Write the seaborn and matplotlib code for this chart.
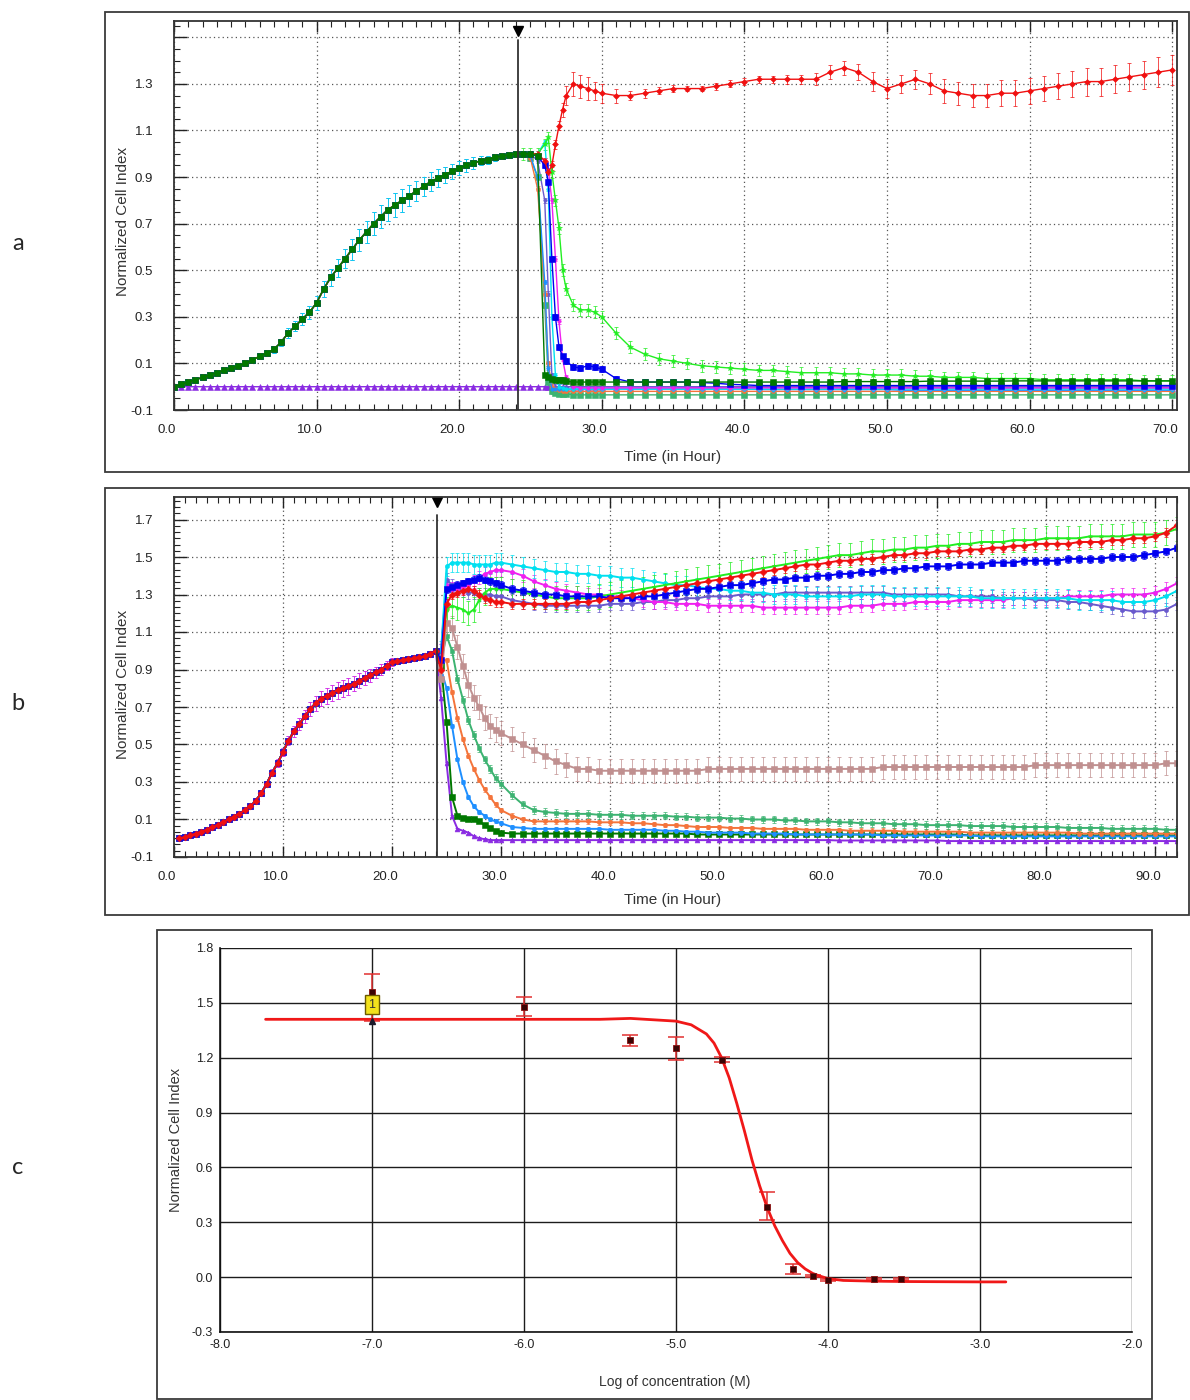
import numpy as np
import pandas as pd
import matplotlib
matplotlib.use("Agg")
import matplotlib.pyplot as plt
import seaborn as sns
from matplotlib.patches import Rectangle
from matplotlib.ticker import MultipleLocator, FormatStrFormatter
from matplotlib.transforms import ScaledTranslation, blended_transform_factory

sns.set_style("white")
plt.rcParams["font.family"] = ["Liberation Sans", "DejaVu Sans"]

# ---------------- panel a : growth phase (shared by most wells) ----------------
ta_grow = [0.0, 0.5, 1.0, 1.5, 2.0, 2.5, 3.0, 3.5, 4.0, 4.5,
           5.0, 5.5, 6.0, 6.5, 7.0, 7.5, 8.0, 8.5, 9.0, 9.5,
           10.0, 10.5, 11.0, 11.5, 12.0, 12.5, 13.0, 13.5, 14.0, 14.5,
           15.0, 15.5, 16.0, 16.5, 17.0, 17.5, 18.0, 18.5, 19.0, 19.5,
           20.0, 20.5, 21.0, 21.5, 22.0, 22.5, 23.0, 23.5, 24.0]
a_grow = [0.00, 0.01, 0.02, 0.03, 0.04, 0.05, 0.06, 0.07, 0.08, 0.09,
          0.10, 0.115, 0.13, 0.145, 0.16, 0.19, 0.23, 0.26, 0.29, 0.32,
          0.36, 0.42, 0.47, 0.51, 0.55, 0.59, 0.63, 0.665, 0.70, 0.73,
          0.76, 0.78, 0.80, 0.82, 0.84, 0.86, 0.88, 0.895, 0.91, 0.925,
          0.94, 0.95, 0.96, 0.97, 0.975, 0.985, 0.99, 0.995, 1.00]
a_grow_err = [0.0, 0.002, 0.003, 0.004, 0.005, 0.005, 0.006, 0.006, 0.007, 0.008,
              0.008, 0.01, 0.01, 0.012, 0.014, 0.016, 0.02, 0.022, 0.025, 0.028,
              0.03, 0.033, 0.036, 0.04, 0.042, 0.044, 0.046, 0.048, 0.05, 0.05,
              0.05, 0.05, 0.048, 0.046, 0.044, 0.042, 0.04, 0.038, 0.035, 0.032,
              0.03, 0.027, 0.024, 0.02, 0.017, 0.014, 0.01, 0.006, 0.0]
a_purple_grow = [0.0, 0.0, 0.0, 0.0, 0.0, 0.0, 0.0, 0.0, 0.0, 0.0,
                 0.0, 0.0, 0.0, 0.0, 0.0, 0.0, 0.0, 0.0, 0.0, 0.0,
                 0.0, 0.0, 0.0, 0.0, 0.0, 0.0, 0.0, 0.0, 0.0, 0.0,
                 0.0, 0.0, 0.0, 0.0, 0.0, 0.0, 0.0, 0.0, 0.0, 0.0,
                 0.0, 0.0, 0.0, 0.0, 0.0, 0.0, 0.0, 0.0, 0.0]

# ---------------- panel a : after compound addition ----------------
ta_post = [24.5, 25.0, 25.5, 26.0, 26.25, 26.5, 26.75, 27.0, 27.25, 27.5, 28.0, 28.5, 29.0, 29.5, 30.0,
           31, 32, 33, 34, 35, 36, 37, 38, 39, 40,
           41, 42, 43, 44, 45, 46, 47, 48, 49, 50,
           51, 52, 53, 54, 55, 56, 57, 58, 59, 60,
           61, 62, 63, 64, 65, 66, 67, 68, 69, 70]
a_red = [1.00, 1.00, 1.00, 0.97, 0.92, 0.95, 1.04, 1.12, 1.19, 1.25, 1.30, 1.29, 1.28, 1.27, 1.26,
         1.25, 1.25, 1.26, 1.27, 1.28, 1.28, 1.28, 1.29, 1.30, 1.31,
         1.32, 1.32, 1.32, 1.32, 1.32, 1.35, 1.37, 1.35, 1.31, 1.28,
         1.30, 1.32, 1.30, 1.27, 1.26, 1.25, 1.25, 1.26, 1.26, 1.27,
         1.28, 1.29, 1.30, 1.31, 1.31, 1.32, 1.33, 1.34, 1.35, 1.36]
a_red_err = [0.01, 0.01, 0.01, 0.01, 0.01, 0.02, 0.02, 0.02, 0.03, 0.04, 0.05, 0.05, 0.05, 0.04, 0.04,
             0.03, 0.02, 0.02, 0.015, 0.015, 0.01, 0.01, 0.015, 0.015, 0.015,
             0.015, 0.015, 0.02, 0.02, 0.025, 0.03, 0.03, 0.035, 0.04, 0.04,
             0.04, 0.04, 0.045, 0.05, 0.05, 0.05, 0.05, 0.055, 0.055, 0.055,
             0.055, 0.055, 0.055, 0.06, 0.06, 0.06, 0.06, 0.06, 0.065, 0.065]
a_lime = [1.00, 1.00, 1.00, 1.04, 1.07, 0.92, 0.80, 0.68, 0.50, 0.42, 0.35, 0.33, 0.33, 0.32, 0.30,
          0.23, 0.17, 0.14, 0.12, 0.11, 0.10, 0.09, 0.085, 0.08, 0.075,
          0.07, 0.07, 0.065, 0.06, 0.06, 0.06, 0.055, 0.055, 0.05, 0.05,
          0.05, 0.045, 0.045, 0.04, 0.04, 0.04, 0.035, 0.035, 0.035, 0.035,
          0.03, 0.03, 0.03, 0.03, 0.03, 0.03, 0.03, 0.025, 0.025, 0.025]
a_blue = [1.00, 1.00, 0.99, 0.95, 0.88, 0.55, 0.30, 0.17, 0.13, 0.11, 0.085, 0.08, 0.09, 0.085, 0.075,
          0.035, 0.02, 0.02, 0.02, 0.02, 0.02, 0.018, 0.015, 0.01, 0.008,
          0.005, 0.005, 0.005, 0.005, 0.005, 0.005, 0.005, 0.005, 0.005, 0.005,
          0.005, 0.005, 0.005, 0.005, 0.005, 0.005, 0.005, 0.005, 0.005, 0.005,
          0.005, 0.005, 0.005, 0.005, 0.005, 0.005, 0.005, 0.005, 0.005, 0.005]
a_cyan = [1.00, 1.00, 1.00, 1.05, 0.85, 0.30, 0.05, 0.00, -0.005, -0.01, -0.01, -0.01, -0.01, -0.01, -0.01,
          -0.01, -0.01, -0.01, -0.01, -0.01, -0.01, -0.01, -0.01, -0.01, -0.01,
          -0.01, -0.01, -0.01, -0.01, -0.01, -0.01, -0.01, -0.01, -0.01, -0.01,
          -0.01, -0.01, -0.01, -0.01, -0.01, -0.01, -0.01, -0.01, -0.01, -0.01,
          -0.01, -0.01, -0.01, -0.01, -0.01, -0.01, -0.01, -0.01, -0.01, -0.01]
a_magenta = [1.00, 1.00, 0.99, 0.97, 0.93, 0.80, 0.55, 0.28, 0.12, 0.04, 0.00, -0.005, -0.005, -0.005, -0.005,
             -0.005, -0.005, -0.005, -0.005, -0.005, -0.005, -0.005, -0.005, -0.005, -0.005,
             -0.005, -0.005, -0.005, -0.005, -0.005, -0.005, -0.005, -0.005, -0.005, -0.005,
             -0.005, -0.005, -0.005, -0.005, -0.005, -0.005, -0.005, -0.005, -0.005, -0.005,
             -0.005, -0.005, -0.005, -0.005, -0.005, -0.005, -0.005, -0.005, -0.005, -0.005]
a_dkgreen = [1.00, 1.00, 0.99, 0.05, 0.04, 0.035, 0.03, 0.03, 0.03, 0.025, 0.02, 0.02, 0.02, 0.02, 0.02,
             0.02, 0.02, 0.02, 0.02, 0.02, 0.02, 0.02, 0.02, 0.02, 0.02,
             0.02, 0.02, 0.02, 0.02, 0.02, 0.02, 0.022, 0.022, 0.022, 0.022,
             0.022, 0.022, 0.024, 0.024, 0.024, 0.024, 0.024, 0.024, 0.025, 0.025,
             0.025, 0.025, 0.025, 0.025, 0.025, 0.025, 0.025, 0.025, 0.025, 0.025]
a_orange = [1.00, 0.98, 0.85, 0.40, 0.10, 0.00, -0.01, -0.015, -0.02, -0.02, -0.02, -0.02, -0.02, -0.02, -0.02,
            -0.02, -0.02, -0.02, -0.02, -0.02, -0.02, -0.02, -0.02, -0.02, -0.02,
            -0.02, -0.02, -0.02, -0.02, -0.02, -0.02, -0.02, -0.02, -0.02, -0.02,
            -0.02, -0.02, -0.02, -0.02, -0.02, -0.02, -0.02, -0.02, -0.02, -0.02,
            -0.02, -0.02, -0.02, -0.02, -0.02, -0.02, -0.02, -0.02, -0.02, -0.02]
a_seagreen = [1.00, 0.98, 0.90, 0.35, 0.02, -0.02, -0.025, -0.03, -0.03, -0.03, -0.035, -0.035, -0.035, -0.035, -0.035,
              -0.035, -0.035, -0.035, -0.035, -0.035, -0.035, -0.035, -0.035, -0.035, -0.035,
              -0.035, -0.035, -0.035, -0.035, -0.035, -0.035, -0.035, -0.035, -0.035, -0.035,
              -0.035, -0.035, -0.035, -0.035, -0.035, -0.035, -0.035, -0.035, -0.035, -0.035,
              -0.035, -0.035, -0.035, -0.035, -0.035, -0.035, -0.035, -0.035, -0.035, -0.035]
a_dodger = [1.00, 0.99, 0.90, 0.45, 0.08, -0.01, -0.01, -0.01, -0.01, -0.01, -0.01, -0.01, -0.01, -0.01, -0.01,
            -0.01, -0.01, -0.01, -0.01, -0.01, -0.01, -0.01, -0.01, -0.01, -0.01,
            -0.012, -0.012, -0.012, -0.012, -0.012, -0.012, -0.012, -0.012, -0.012, -0.012,
            -0.015, -0.015, -0.015, -0.015, -0.015, -0.015, -0.015, -0.015, -0.015, -0.015,
            -0.015, -0.015, -0.015, -0.015, -0.015, -0.015, -0.015, -0.015, -0.015, -0.015]
a_slate = [1.00, 1.00, 0.97, 0.80, 0.40, 0.05, 0.00, 0.00, 0.00, 0.00, 0.00, 0.00, 0.00, 0.00, 0.00,
           0.00, 0.00, 0.00, 0.00, 0.00, 0.00, 0.00, 0.00, 0.00, 0.00,
           0.00, 0.00, 0.00, 0.00, 0.00, 0.00, 0.00, 0.00, 0.00, 0.00,
           0.00, 0.00, 0.00, 0.00, 0.00, 0.00, 0.00, 0.00, 0.00, 0.00,
           0.00, 0.00, 0.00, 0.00, 0.00, 0.00, 0.00, 0.00, 0.00, 0.00]
a_purple = [0.00, 0.00, 0.00, 0.00, 0.00, 0.00, 0.00, 0.00, 0.00, 0.00, 0.00, 0.00, 0.00, 0.00, 0.00,
            0.00, 0.00, 0.00, 0.00, 0.00, -0.003, -0.003, -0.003, -0.003, -0.003,
            -0.003, -0.003, -0.003, -0.003, -0.003, -0.005, -0.005, -0.005, -0.005, -0.005,
            -0.005, -0.005, -0.005, -0.005, -0.005, -0.005, -0.005, -0.005, -0.005, -0.005,
            -0.005, -0.005, -0.005, -0.005, -0.005, -0.005, -0.005, -0.005, -0.005, -0.005]

# ---------------- panel b : growth phase ----------------
tb_grow = [0.5, 1.0, 1.5, 2.0, 2.5, 3.0, 3.5, 4.0, 4.5, 5.0,
           5.5, 6.0, 6.5, 7.0, 7.5, 8.0, 8.5, 9.0, 9.5, 10.0,
           10.5, 11.0, 11.5, 12.0, 12.5, 13.0, 13.5, 14.0, 14.5, 15.0,
           15.5, 16.0, 16.5, 17.0, 17.5, 18.0, 18.5, 19.0, 19.5, 20.0,
           20.5, 21.0, 21.5, 22.0, 22.5, 23.0, 23.5, 24.0]
b_grow = [0.00, 0.005, 0.015, 0.025, 0.035, 0.045, 0.06, 0.07, 0.085, 0.10,
          0.115, 0.13, 0.15, 0.17, 0.20, 0.24, 0.29, 0.35, 0.40, 0.46,
          0.52, 0.57, 0.61, 0.65, 0.69, 0.72, 0.745, 0.76, 0.775, 0.79,
          0.80, 0.81, 0.825, 0.84, 0.855, 0.87, 0.885, 0.90, 0.92, 0.94,
          0.945, 0.95, 0.955, 0.96, 0.965, 0.97, 0.985, 1.00]
b_grow_err = [0.0, 0.003, 0.004, 0.005, 0.005, 0.006, 0.006, 0.007, 0.007, 0.008,
              0.008, 0.009, 0.01, 0.01, 0.012, 0.014, 0.016, 0.018, 0.02, 0.022,
              0.025, 0.028, 0.03, 0.033, 0.036, 0.04, 0.042, 0.044, 0.045, 0.045,
              0.045, 0.044, 0.042, 0.04, 0.037, 0.034, 0.03, 0.027, 0.024, 0.02,
              0.018, 0.016, 0.014, 0.012, 0.01, 0.008, 0.005, 0.0]

# ---------------- panel b : after compound addition ----------------
tb_post = [24.5, 25.0, 25.5, 26.0, 26.5, 27.0, 27.5, 28.0, 28.5, 29.0, 29.5, 30.0,
           31, 32, 33, 34, 35, 36, 37, 38, 39, 40,
           41, 42, 43, 44, 45, 46, 47, 48, 49, 50,
           51, 52, 53, 54, 55, 56, 57, 58, 59, 60,
           61, 62, 63, 64, 65, 66, 67, 68, 69, 70,
           71, 72, 73, 74, 75, 76, 77, 78, 79, 80,
           81, 82, 83, 84, 85, 86, 87, 88, 89, 90,
           91, 92]
b_red = [0.90, 1.25, 1.30, 1.31, 1.32, 1.33, 1.32, 1.30, 1.28, 1.27, 1.26, 1.26,
         1.25, 1.25, 1.25, 1.25, 1.25, 1.25, 1.26, 1.26, 1.27, 1.28,
         1.29, 1.30, 1.31, 1.32, 1.33, 1.34, 1.35, 1.36, 1.37, 1.38,
         1.39, 1.40, 1.41, 1.42, 1.43, 1.44, 1.45, 1.46, 1.46, 1.47,
         1.48, 1.48, 1.49, 1.49, 1.50, 1.51, 1.51, 1.52, 1.52, 1.53,
         1.53, 1.53, 1.54, 1.54, 1.55, 1.55, 1.56, 1.56, 1.57, 1.57,
         1.57, 1.57, 1.58, 1.58, 1.58, 1.59, 1.59, 1.60, 1.60, 1.61,
         1.63, 1.67]
b_lime = [0.95, 1.22, 1.24, 1.23, 1.22, 1.20, 1.22, 1.27, 1.31, 1.33, 1.33, 1.33,
          1.32, 1.31, 1.30, 1.29, 1.28, 1.28, 1.28, 1.28, 1.29, 1.30,
          1.31, 1.32, 1.33, 1.34, 1.35, 1.36, 1.37, 1.38, 1.39, 1.40,
          1.41, 1.42, 1.43, 1.44, 1.45, 1.46, 1.47, 1.48, 1.49, 1.50,
          1.51, 1.51, 1.52, 1.53, 1.53, 1.54, 1.54, 1.55, 1.55, 1.56,
          1.56, 1.57, 1.57, 1.58, 1.58, 1.58, 1.59, 1.59, 1.59, 1.60,
          1.60, 1.60, 1.60, 1.61, 1.61, 1.61, 1.61, 1.62, 1.62, 1.62,
          1.63, 1.65]
b_blue = [0.95, 1.33, 1.34, 1.35, 1.36, 1.37, 1.38, 1.39, 1.38, 1.37, 1.36, 1.35,
          1.33, 1.32, 1.31, 1.30, 1.30, 1.29, 1.29, 1.29, 1.29, 1.28,
          1.28, 1.28, 1.29, 1.29, 1.30, 1.31, 1.32, 1.33, 1.33, 1.34,
          1.35, 1.35, 1.36, 1.37, 1.38, 1.38, 1.39, 1.39, 1.40, 1.40,
          1.41, 1.41, 1.42, 1.42, 1.43, 1.43, 1.44, 1.44, 1.45, 1.45,
          1.45, 1.46, 1.46, 1.46, 1.47, 1.47, 1.47, 1.48, 1.48, 1.48,
          1.48, 1.49, 1.49, 1.49, 1.49, 1.50, 1.50, 1.50, 1.51, 1.52,
          1.53, 1.55]
b_cyan = [1.00, 1.45, 1.47, 1.47, 1.47, 1.47, 1.46, 1.46, 1.46, 1.46, 1.47, 1.47,
          1.46, 1.45, 1.44, 1.43, 1.42, 1.42, 1.41, 1.41, 1.40, 1.40,
          1.39, 1.39, 1.38, 1.37, 1.36, 1.35, 1.35, 1.34, 1.33, 1.33,
          1.32, 1.32, 1.31, 1.31, 1.30, 1.30, 1.30, 1.29, 1.29, 1.29,
          1.29, 1.29, 1.30, 1.30, 1.30, 1.29, 1.29, 1.29, 1.29, 1.29,
          1.29, 1.29, 1.29, 1.28, 1.28, 1.28, 1.28, 1.28, 1.28, 1.28,
          1.28, 1.28, 1.27, 1.27, 1.27, 1.27, 1.26, 1.26, 1.26, 1.27,
          1.29, 1.32]
b_magenta = [1.00, 1.35, 1.33, 1.33, 1.34, 1.35, 1.37, 1.39, 1.41, 1.42, 1.43, 1.43,
             1.42, 1.40, 1.37, 1.35, 1.33, 1.32, 1.31, 1.30, 1.30, 1.29,
             1.29, 1.28, 1.27, 1.26, 1.26, 1.25, 1.25, 1.25, 1.24, 1.24,
             1.24, 1.24, 1.24, 1.23, 1.23, 1.23, 1.23, 1.23, 1.23, 1.23,
             1.23, 1.24, 1.24, 1.24, 1.25, 1.25, 1.25, 1.26, 1.26, 1.26,
             1.26, 1.27, 1.27, 1.27, 1.27, 1.27, 1.28, 1.28, 1.28, 1.28,
             1.28, 1.29, 1.29, 1.29, 1.29, 1.30, 1.30, 1.30, 1.30, 1.31,
             1.33, 1.36]
b_slate = [1.00, 1.38, 1.35, 1.33, 1.32, 1.31, 1.31, 1.30, 1.30, 1.30, 1.29, 1.29,
           1.27, 1.26, 1.25, 1.24, 1.24, 1.24, 1.24, 1.24, 1.24, 1.25,
           1.25, 1.25, 1.26, 1.26, 1.27, 1.27, 1.28, 1.28, 1.29, 1.29,
           1.29, 1.30, 1.30, 1.30, 1.30, 1.31, 1.31, 1.31, 1.31, 1.31,
           1.31, 1.31, 1.31, 1.31, 1.31, 1.30, 1.30, 1.30, 1.30, 1.30,
           1.30, 1.29, 1.29, 1.29, 1.29, 1.28, 1.28, 1.28, 1.27, 1.27,
           1.27, 1.26, 1.26, 1.25, 1.24, 1.23, 1.22, 1.21, 1.21, 1.21,
           1.22, 1.25]
b_brown = [0.85, 1.15, 1.12, 1.02, 0.92, 0.82, 0.75, 0.70, 0.64, 0.60, 0.58, 0.56,
           0.53, 0.50, 0.47, 0.44, 0.41, 0.39, 0.37, 0.37, 0.36, 0.36,
           0.36, 0.36, 0.36, 0.36, 0.36, 0.36, 0.36, 0.36, 0.37, 0.37,
           0.37, 0.37, 0.37, 0.37, 0.37, 0.37, 0.37, 0.37, 0.37, 0.37,
           0.37, 0.37, 0.37, 0.37, 0.38, 0.38, 0.38, 0.38, 0.38, 0.38,
           0.38, 0.38, 0.38, 0.38, 0.38, 0.38, 0.38, 0.38, 0.39, 0.39,
           0.39, 0.39, 0.39, 0.39, 0.39, 0.39, 0.39, 0.39, 0.39, 0.39,
           0.40, 0.40]
b_seagreen = [0.95, 1.08, 1.00, 0.85, 0.74, 0.63, 0.55, 0.48, 0.42, 0.37, 0.32, 0.29,
              0.23, 0.18, 0.15, 0.14, 0.135, 0.13, 0.13, 0.13, 0.125, 0.125,
              0.125, 0.12, 0.12, 0.12, 0.12, 0.115, 0.115, 0.11, 0.11, 0.11,
              0.105, 0.105, 0.10, 0.10, 0.10, 0.095, 0.095, 0.09, 0.09, 0.09,
              0.085, 0.085, 0.08, 0.08, 0.08, 0.075, 0.075, 0.075, 0.07, 0.07,
              0.07, 0.07, 0.065, 0.065, 0.065, 0.065, 0.06, 0.06, 0.06, 0.06,
              0.06, 0.055, 0.055, 0.055, 0.055, 0.05, 0.05, 0.05, 0.05, 0.05,
              0.045, 0.045]
b_orange = [0.95, 0.95, 0.78, 0.64, 0.53, 0.44, 0.37, 0.31, 0.26, 0.22, 0.18, 0.15,
            0.12, 0.10, 0.09, 0.09, 0.09, 0.09, 0.09, 0.09, 0.085, 0.085,
            0.085, 0.08, 0.08, 0.075, 0.07, 0.07, 0.065, 0.06, 0.06, 0.06,
            0.055, 0.055, 0.055, 0.05, 0.05, 0.05, 0.05, 0.045, 0.045, 0.045,
            0.045, 0.04, 0.04, 0.04, 0.04, 0.04, 0.035, 0.035, 0.035, 0.035,
            0.035, 0.035, 0.03, 0.03, 0.03, 0.03, 0.03, 0.03, 0.03, 0.03,
            0.03, 0.03, 0.025, 0.025, 0.025, 0.025, 0.025, 0.025, 0.025, 0.025,
            0.025, 0.025]
b_dodger = [0.90, 0.80, 0.60, 0.42, 0.30, 0.22, 0.17, 0.14, 0.12, 0.10, 0.09, 0.08,
            0.06, 0.055, 0.05, 0.05, 0.05, 0.05, 0.05, 0.05, 0.05, 0.045,
            0.045, 0.045, 0.045, 0.045, 0.04, 0.04, 0.035, 0.035, 0.03, 0.03,
            0.03, 0.03, 0.025, 0.025, 0.025, 0.025, 0.02, 0.02, 0.02, 0.02,
            0.02, 0.02, 0.02, 0.02, 0.015, 0.015, 0.015, 0.015, 0.015, 0.015,
            0.015, 0.015, 0.015, 0.01, 0.01, 0.01, 0.01, 0.01, 0.01, 0.01,
            0.01, 0.01, 0.01, 0.01, 0.01, 0.01, 0.01, 0.01, 0.01, 0.01,
            0.01, 0.01]
b_dkgreen = [0.92, 0.62, 0.22, 0.12, 0.11, 0.105, 0.10, 0.09, 0.07, 0.055, 0.04, 0.03,
             0.025, 0.025, 0.025, 0.025, 0.025, 0.025, 0.025, 0.025, 0.025, 0.025,
             0.025, 0.025, 0.025, 0.025, 0.025, 0.025, 0.025, 0.02, 0.02, 0.02,
             0.02, 0.02, 0.02, 0.02, 0.02, 0.02, 0.02, 0.02, 0.02, 0.02,
             0.02, 0.02, 0.02, 0.02, 0.02, 0.02, 0.02, 0.02, 0.02, 0.02,
             0.02, 0.02, 0.015, 0.015, 0.015, 0.015, 0.015, 0.015, 0.015, 0.015,
             0.015, 0.015, 0.015, 0.015, 0.015, 0.015, 0.015, 0.015, 0.015, 0.015,
             0.015, 0.015]
b_purple = [0.75, 0.40, 0.12, 0.05, 0.04, 0.03, 0.01, 0.00, -0.005, -0.01, -0.01, -0.01,
            -0.01, -0.01, -0.01, -0.01, -0.01, -0.01, -0.01, -0.01, -0.01, -0.01,
            -0.01, -0.01, -0.01, -0.01, -0.01, -0.01, -0.01, -0.01, -0.01, -0.01,
            -0.01, -0.01, -0.01, -0.01, -0.01, -0.01, -0.01, -0.01, -0.01, -0.01,
            -0.012, -0.012, -0.012, -0.012, -0.012, -0.012, -0.012, -0.012, -0.012, -0.012,
            -0.015, -0.015, -0.015, -0.015, -0.015, -0.015, -0.015, -0.015, -0.015, -0.015,
            -0.015, -0.015, -0.015, -0.015, -0.015, -0.015, -0.015, -0.015, -0.015, -0.015,
            -0.015, -0.015]

# ---------------- panel c : dose response ----------------
c_curve_x = [-7.7, -7.0, -6.0, -5.5, -5.3, -5.2, -5.0, -4.9, -4.8, -4.75, -4.7, -4.65, -4.6, -4.55,
             -4.5, -4.45, -4.4, -4.35, -4.3, -4.25, -4.2, -4.15, -4.1, -4.05, -4.0,
             -3.9, -3.7, -3.5, -3.0, -2.83]
c_curve_y = [1.41, 1.41, 1.41, 1.41, 1.415, 1.41, 1.40, 1.38, 1.33, 1.28, 1.20, 1.09, 0.95, 0.80,
             0.64, 0.50, 0.38, 0.28, 0.20, 0.13, 0.08, 0.045, 0.02, 0.005, -0.008,
             -0.018, -0.022, -0.024, -0.026, -0.026]
c_x = [-7.0, -6.0, -5.3, -5.0, -4.7, -4.4, -4.23, -4.1, -4.0, -3.7, -3.52]
c_y = [1.56, 1.48, 1.295, 1.255, 1.19, 0.386, 0.044, 0.005, -0.016, -0.011, -0.01]
c_lo = [1.40, 1.43, 1.264, 1.187, 1.176, 0.313, 0.015, 0.0, -0.02, -0.015, -0.014]
c_hi = [1.66, 1.53, 1.326, 1.315, 1.204, 0.466, 0.071, 0.01, -0.012, -0.007, -0.006]
c_xticks = [-8.0, -7.0, -6.0, -5.0, -4.0, -3.0, -2.0]
c_yticks = [-0.3, 0.0, 0.3, 0.6, 0.9, 1.2, 1.5, 1.8]

# ---------------- series styling ----------------
order_a = ["purple", "slate", "seagreen", "orange", "dodger", "cyan", "magenta",
           "blue", "lime", "red", "dkgreen"]
post_a = {"purple": a_purple, "slate": a_slate, "seagreen": a_seagreen, "orange": a_orange,
          "dodger": a_dodger, "cyan": a_cyan, "magenta": a_magenta, "blue": a_blue,
          "lime": a_lime, "red": a_red, "dkgreen": a_dkgreen}
err_a = {"purple": 0.003, "slate": 0.01, "seagreen": 0.01, "orange": 0.01, "dodger": 0.01,
         "cyan": 0.01, "magenta": 0.01, "blue": 0.012, "lime": 0.025, "red": a_red_err,
         "dkgreen": 0.01}
grow_err_a = {"slate": a_grow_err, "dodger": a_grow_err, "cyan": a_grow_err}

order_b = ["purple", "dkgreen", "dodger", "orange", "seagreen", "brown",
           "slate", "magenta", "cyan", "lime", "blue", "red"]
post_b = {"purple": b_purple, "dkgreen": b_dkgreen, "dodger": b_dodger, "orange": b_orange,
          "seagreen": b_seagreen, "brown": b_brown, "slate": b_slate, "magenta": b_magenta,
          "cyan": b_cyan, "lime": b_lime, "blue": b_blue, "red": b_red}
err_b = {"purple": 0.005, "dkgreen": 0.006, "dodger": 0.01, "orange": 0.012, "seagreen": 0.02,
         "brown": 0.065, "slate": 0.035, "magenta": 0.035, "cyan": 0.05, "lime": 0.065,
         "blue": 0.02, "red": 0.025}
grow_err_b = {"magenta": b_grow_err, "slate": b_grow_err}

colors = {"purple": "#8a2be2", "slate": "#6a5acd", "seagreen": "#3cb371", "orange": "#f4743b",
          "dodger": "#1e8fff", "cyan": "#00e0f0", "magenta": "#f020f0", "blue": "#0000f0",
          "lime": "#22ee22", "red": "#f01010", "dkgreen": "#007800", "brown": "#c09090"}
markers = {"purple": "^", "slate": "o", "seagreen": "s", "orange": "o", "dodger": "o",
           "cyan": "o", "magenta": "o", "blue": "s", "lime": "*", "red": "D",
           "dkgreen": "s", "brown": "s"}
msize_a = {"purple": 4, "slate": 2.5, "seagreen": 4, "orange": 3, "dodger": 2.5, "cyan": 2.5,
           "magenta": 2.5, "blue": 4, "lime": 4, "red": 3, "dkgreen": 5}
msize_b = {"purple": 3.5, "slate": 3, "seagreen": 3, "orange": 3, "dodger": 3, "cyan": 3,
           "magenta": 3, "blue": 4, "lime": 3, "red": 3.5, "dkgreen": 4, "brown": 4}


def long_frame(order, t_grow, grows, t_post, posts):
    frames = []
    for name in order:
        frames.append(pd.DataFrame({"t": list(t_grow) + list(t_post),
                                    "v": list(grows[name]) + list(posts[name]),
                                    "series": name}))
    return pd.concat(frames, ignore_index=True)


def draw_panel(ax, order, t_grow, grows, t_post, posts, post_err, grow_err, msize, lw):
    df = long_frame(order, t_grow, grows, t_post, posts)
    for name in order:
        c = colors[name]
        if name in grow_err:
            ax.errorbar(t_grow, grows[name], yerr=grow_err[name], fmt="none", ecolor=c,
                        elinewidth=0.6, capsize=1.2, capthick=0.6, alpha=0.85, zorder=1.5)
        ax.errorbar(t_post, posts[name], yerr=post_err[name], fmt="none", ecolor=c,
                    elinewidth=0.6, capsize=1.2, capthick=0.6, alpha=0.85, zorder=1.5)
    n0 = len(ax.lines)
    sns.lineplot(data=df, x="t", y="v", hue="series", style="series",
                 hue_order=order, style_order=order,
                 palette={k: colors[k] for k in order},
                 markers={k: markers[k] for k in order}, dashes=False,
                 linewidth=lw, errorbar=None, legend=False, ax=ax)
    for line, name in zip(ax.lines[n0:], order):
        line.set_markersize(msize[name])
        line.set_markeredgecolor(colors[name])
        line.set_markeredgewidth(0.4)


def style_time_axis(ax, xmax, ylim, yticks, ylabels, yminor):
    ax.set_xlim(0, xmax)
    ax.set_ylim(*ylim)
    ax.xaxis.set_major_locator(MultipleLocator(10))
    ax.xaxis.set_minor_locator(MultipleLocator(1))
    ax.xaxis.set_major_formatter(FormatStrFormatter("%.1f"))
    ax.set_yticks(yticks)
    ax.set_yticklabels(ylabels)
    ax.yaxis.set_minor_locator(MultipleLocator(yminor))
    ax.tick_params(axis="x", which="both", direction="in", top=True, bottom=True,
                   labelsize=9.5, pad=10, color="#222", labelcolor="#222")
    ax.tick_params(axis="x", which="major", length=8, width=1.0)
    ax.tick_params(axis="x", which="minor", length=4, width=0.8)
    ax.tick_params(axis="y", which="both", direction="in", left=True, right=False,
                   labelsize=9.5, pad=15, color="#222", labelcolor="#222")
    ax.tick_params(axis="y", which="major", length=9, width=1.0)
    ax.tick_params(axis="y", which="minor", length=4, width=0.8)
    ax.grid(True, which="major", linestyle=(0, (1, 2.5)), color="#555", linewidth=0.9)
    for s in ax.spines.values():
        s.set_visible(True)
        s.set_color("#333")
        s.set_linewidth(1.3)
    ax.set_xlabel("")
    ax.set_ylabel("")


W, H = 1190, 1400
fig = plt.figure(figsize=(11.9, 14), dpi=100)


def fx(px):
    return px / W


def fy(py):
    return 1 - py / H


ax_a = fig.add_axes([fx(174), fy(410), fx(1177) - fx(174), fy(21) - fy(410)])
ax_b = fig.add_axes([fx(174), fy(857), fx(1177) - fx(174), fy(497) - fy(857)])
ax_c = fig.add_axes([fx(220), fy(1332), fx(1132) - fx(220), fy(948) - fy(1332)])

# ---- panel a ----
grows_a = {k: a_grow for k in order_a}
grows_a["purple"] = a_purple_grow
draw_panel(ax_a, order_a, ta_grow, grows_a, ta_post, post_a, err_a, grow_err_a, msize_a, 1.0)
ya = [-0.1, 0.1, 0.3, 0.5, 0.7, 0.9, 1.1, 1.3, 1.5]
style_time_axis(ax_a, 70.34, (-0.1, 1.57), ya,
                ["%.1f" % v for v in ya[:-1]] + [""], 0.05)
ax_a.axvline(24.1, ymin=0, ymax=0.951, color="#333", lw=1.3, zorder=3)
ax_a.plot([24.1], [0.975], marker="v", ms=7, color="black",
          transform=blended_transform_factory(ax_a.transData, ax_a.transAxes), clip_on=False)

# ---- panel b ----
grows_b = {k: b_grow for k in order_b}
draw_panel(ax_b, order_b, tb_grow, grows_b, tb_post, post_b, err_b, grow_err_b, msize_b, 1.4)
yb = [-0.1, 0.1, 0.3, 0.5, 0.7, 0.9, 1.1, 1.3, 1.5, 1.7]
style_time_axis(ax_b, 92.0, (-0.1, 1.82), yb, ["%.1f" % v for v in yb], 0.2 / 6)
ax_b.axvline(24.1, ymin=0, ymax=0.95, color="#333", lw=1.3, zorder=3)
ax_b.plot([24.1], [0.985], marker="v", ms=7, color="black",
          transform=blended_transform_factory(ax_b.transData, ax_b.transAxes), clip_on=False)

# ---- panel c ----
narrow = ["Liberation Sans Narrow", "Liberation Sans", "DejaVu Sans"]
ax_c.errorbar(c_x, c_y, yerr=[np.array(c_y) - np.array(c_lo), np.array(c_hi) - np.array(c_y)],
              fmt="none", ecolor="#e23030", elinewidth=1.1, capsize=6, capthick=1.1, zorder=3)
sns.lineplot(x=c_curve_x, y=c_curve_y, color="#f01818", linewidth=2.0, sort=False,
             errorbar=None, ax=ax_c, zorder=4)
sns.scatterplot(x=c_x, y=c_y, marker="s", color="#3a0505", edgecolor="#8a1010",
                s=18, linewidth=0.6, ax=ax_c, zorder=5)
ax_c.plot([-7.0], [1.40], marker="^", ms=5, color="#1a1a2a", zorder=5)
ax_c.text(-7.0, 1.49, "1", ha="center", va="center", fontsize=9, color="#333", zorder=6,
          bbox=dict(boxstyle="square,pad=0.28", fc="#f3e21c", ec="#6b5a00", lw=1.0))
ax_c.set_xlim(-8, -2)
ax_c.set_ylim(-0.3, 1.8)
ax_c.set_xticks(c_xticks)
ax_c.set_xticklabels(["%.1f" % v for v in c_xticks], fontfamily=narrow, fontsize=9)
ax_c.set_yticks(c_yticks)
ax_c.set_yticklabels(["%.1f" % v for v in c_yticks], fontfamily=narrow, fontsize=9)
ax_c.grid(True, color="#1c1c1c", linewidth=1.0)
ax_c.set_axisbelow(True)
ax_c.tick_params(direction="out", length=4, width=1, pad=1, colors="#222")
for side in ["top", "right"]:
    ax_c.spines[side].set_visible(False)
for side in ["left", "bottom"]:
    ax_c.spines[side].set_color("#111")
    ax_c.spines[side].set_linewidth(1.2)
ax_c.set_xlabel("")
ax_c.set_ylabel("")

# ---- frames, labels ----
frame_kw = dict(transform=fig.transFigure, fill=False, ec="#3a3a3a", lw=1.3)
fig.add_artist(Rectangle((fx(105), fy(472)), fx(1189) - fx(105), fy(12) - fy(472), **frame_kw))
fig.add_artist(Rectangle((fx(105), fy(915)), fx(1189) - fx(105), fy(488) - fy(915), **frame_kw))
fig.add_artist(Rectangle((fx(157), fy(1399)), fx(1152) - fx(157), fy(930) - fy(1399), **frame_kw))

panel_font = ["Lato", "Liberation Sans", "DejaVu Sans"]
fig.text(fx(18), fy(243), "a", fontsize=17, ha="center", va="center", family=panel_font)
fig.text(fx(18), fy(703), "b", fontsize=17, ha="center", va="center", family=panel_font)
fig.text(fx(18), fy(1168), "c", fontsize=17, ha="center", va="center", family=panel_font)

fig.text(fx(123), fy(221), "Normalized Cell Index", rotation=90, fontsize=11,
         ha="center", va="center", color="#333")
fig.text(fx(123), fy(684), "Normalized Cell Index", rotation=90, fontsize=11,
         ha="center", va="center", color="#333")
fig.text(fx(176), fy(1140), "Normalized Cell Index", rotation=90, fontsize=10.5,
         ha="center", va="center", color="#333")
fig.text(fx(673), fy(457), "Time (in Hour)", fontsize=11, ha="center", va="center", color="#333")
fig.text(fx(673), fy(900), "Time (in Hour)", fontsize=11, ha="center", va="center", color="#333")
fig.text(fx(675), fy(1382), "Log of concentration (M)", fontsize=10, ha="center", va="center",
         color="#333", family=narrow)

# the instrument software draws x tick labels a little left of their ticks
shift = ScaledTranslation(-7 / 100, 0, fig.dpi_scale_trans)
for ax in (ax_a, ax_b):
    for lab in ax.xaxis.get_majorticklabels():
        lab.set_transform(lab.get_transform() + shift)

fig.savefig("out.png", dpi=100)
